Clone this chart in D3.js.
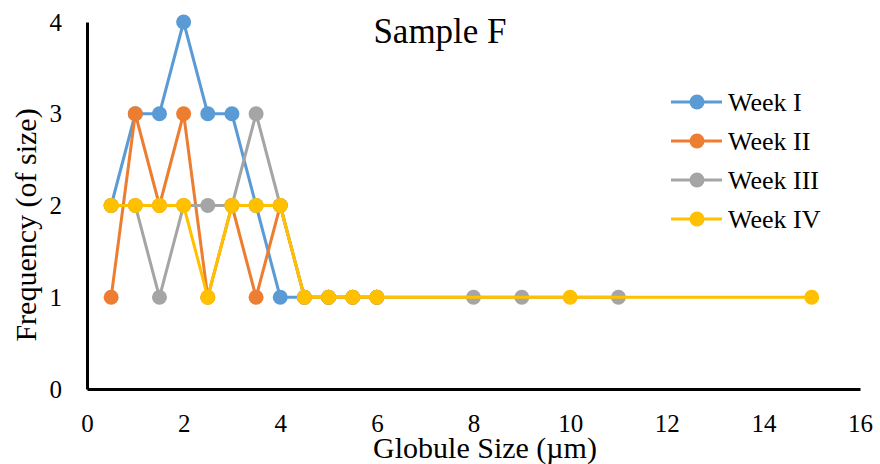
<!DOCTYPE html>
<html>
<head>
<meta charset="utf-8">
<script src="https://cdn.jsdelivr.net/npm/d3@7"></script>
<style>
  body { margin: 0; background: #fff; }
  svg text { font-family: "Liberation Serif", "Times New Roman", serif; fill: #000; }
</style>
</head>
<body>
<div id="chart"></div>
<script>
// globule size (um) / frequency per week
var weekI   = [[0.5,2],[1,3],[1.5,3],[2,4],[2.5,3],[3,3],[3.5,2],[4,1],[4.5,1],[5,1],[5.5,1],[6,1]];
var weekII  = [[0.5,1],[1,3],[1.5,2],[2,3],[2.5,1],[3,2],[3.5,1],[4,2],[4.5,1],[5,1],[5.5,1],[6,1]];
var weekIII = [[0.5,2],[1,2],[1.5,1],[2,2],[2.5,2],[3,2],[3.5,3],[4,2],[4.5,1],[5,1],[6,1],[8,1],[9,1],[11,1]];
var weekIV  = [[0.5,2],[1,2],[1.5,2],[2,2],[2.5,1],[3,2],[3.5,2],[4,2],[4.5,1],[5,1],[5.5,1],[6,1],[10,1],[15,1]];
var seriesNames = ["Week I", "Week II", "Week III", "Week IV"];
var colors = ["#5B9BD5", "#ED7D31", "#A5A5A5", "#FFC000"];
var xTicks = [0, 2, 4, 6, 8, 10, 12, 14, 16];
var yTicks = [0, 1, 2, 3, 4];

var allSeries = [weekI, weekII, weekIII, weekIV];

var width = 880, height = 464;
var svg = d3.select("#chart").append("svg")
    .attr("width", width)
    .attr("height", height);

var x = d3.scaleLinear().domain([0, 16]).range([87, 860]);
var y = d3.scaleLinear().domain([0, 4]).range([389, 22]);

// axes (no tick marks, just labels)
var xAxis = svg.append("g")
    .attr("transform", "translate(0,389)")
    .call(d3.axisBottom(x).tickValues(xTicks).tickFormat(d3.format("d")).tickSize(0).tickPadding(25));
xAxis.select(".domain").attr("stroke", "#000").attr("stroke-width", 3);
xAxis.selectAll("text").style("font-size", "25px");

var yAxis = svg.append("g")
    .attr("transform", "translate(87,0)")
    .call(d3.axisLeft(y).tickValues(yTicks).tickFormat(d3.format("d")).tickSize(0).tickPadding(25));
yAxis.select(".domain").attr("stroke", "#000").attr("stroke-width", 3);
yAxis.selectAll("text").style("font-size", "25px");

var line = d3.line()
    .x(function(d) { return x(d[0]); })
    .y(function(d) { return y(d[1]); });

allSeries.forEach(function(data, i) {
    var g = svg.append("g");
    g.append("path")
        .datum(data)
        .attr("d", line)
        .attr("fill", "none")
        .attr("stroke", colors[i])
        .attr("stroke-width", 3)
        .attr("stroke-linejoin", "round");
    g.selectAll("circle")
        .data(data)
        .enter().append("circle")
        .attr("cx", function(d) { return x(d[0]); })
        .attr("cy", function(d) { return y(d[1]); })
        .attr("r", 7.5)
        .attr("fill", colors[i]);
});

// title
svg.append("text")
    .attr("x", 440)
    .attr("y", 43)
    .attr("text-anchor", "middle")
    .style("font-size", "35px")
    .text("Sample F");

// axis titles
svg.append("text")
    .attr("x", 485)
    .attr("y", 458)
    .attr("text-anchor", "middle")
    .style("font-size", "30px")
    .text("Globule Size (µm)");

svg.append("text")
    .attr("transform", "translate(36,225) rotate(-90)")
    .attr("text-anchor", "middle")
    .style("font-size", "30px")
    .text("Frequency (of size)");

// legend
var legend = svg.append("g").attr("transform", "translate(671,102)");
seriesNames.forEach(function(name, i) {
    var row = legend.append("g").attr("transform", "translate(0," + (i * 39) + ")");
    row.append("line")
        .attr("x1", 0).attr("x2", 51)
        .attr("y1", 0).attr("y2", 0)
        .attr("stroke", colors[i])
        .attr("stroke-width", 3);
    row.append("circle")
        .attr("cx", 26).attr("cy", 0).attr("r", 7.5)
        .attr("fill", colors[i]);
    row.append("text")
        .attr("x", 57)
        .attr("y", 9)
        .style("font-size", "26px")
        .text(name);
});
</script>
</body>
</html>
